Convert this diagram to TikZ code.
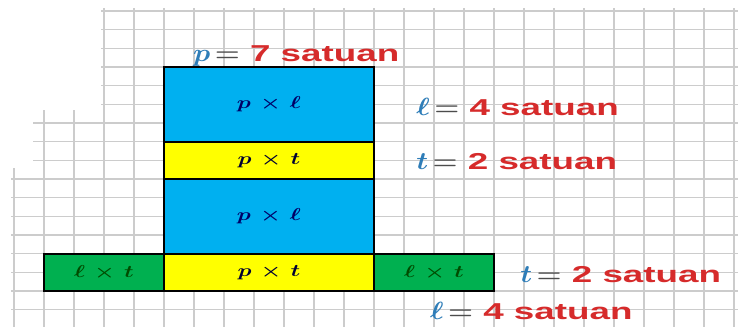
\documentclass[tikz,border=0pt]{standalone}
\usepackage{amsmath}
\usepackage{bm}
\usepackage{fontspec}
\setsansfont{Liberation Sans}
\usepackage{graphicx}
\usepackage{xcolor}
\usepackage{tikz}
\definecolor{AreaBlue}{HTML}{00B0F0}
\definecolor{AreaYellow}{HTML}{FFFF00}
\definecolor{AreaGreen}{HTML}{00B050}
\definecolor{SizeRed}{HTML}{D62B2B}
\definecolor{LetterBlue}{HTML}{2E7DB8}
\definecolor{EqualGray}{gray}{0.30}
\definecolor{GridGray}{gray}{0.80}
\newcommand{\FigureWide}[1]{\scalebox{1.35}[1]{#1}}
\newcommand{\FigureSize}[2]{%
  \scalebox{1.15}[1]{\textcolor{LetterBlue}{$\bm{#1}$}\,\textcolor{EqualGray}{$\bm{=}$}}%
  \scalebox{1.6}[1]{\ #2 satuan}%
}

\begin{document}
\begin{tikzpicture}[
  x=1pt,y=-1pt,
  gridline/.style={draw=GridGray,line width=1.1pt},
  area/.style={draw=black,line width=2.2pt,inner sep=0pt,font=\fontsize{17.28}{19}\selectfont},
  size/.style={anchor=base west,inner sep=0pt,font=\sffamily\bfseries\fontsize{23}{27}\selectfont,text=SizeRed},
]
  \fill[white] (0,0) rectangle (738,327);
  \useasboundingbox (0,0) rectangle (738,327);

  % grid paper, stepped on the left
  \foreach \k in {0,...,21}
    \draw[gridline] ({104+30*\k},8) -- ({104+30*\k},327);
  \foreach \k in {0,1}
    \draw[gridline] ({44+30*\k},110) -- ({44+30*\k},327);
  \draw[gridline] (14,168) -- (14,327);
  \foreach \j in {0,...,16}{
    \pgfmathsetmacro{\rowy}{11+18.667*\j}
    \ifnum\j<6 \def\rowx{101}\else\ifnum\j<9 \def\rowx{33}\else\def\rowx{11}\fi\fi
    \draw[gridline] (\rowx,\rowy) -- (738,\rowy);
  }

  \node[area,fill=AreaBlue,text=blue!40!black,minimum width=210pt,minimum height=74.67pt] (plTop) at (269,104.33)
    {\FigureWide{$\bm{p}\,\bm{\times}\,\bm{\ell}$}};
  \node[area,fill=AreaYellow,text=blue!20!black,minimum width=210pt,minimum height=37.33pt] (ptTop) at (269,160.33)
    {\FigureWide{$\bm{p}\,\bm{\times}\,\bm{t}$}};
  \node[area,fill=AreaBlue,text=blue!40!black,minimum width=210pt,minimum height=74.67pt] (plMid) at (269,216.33)
    {\FigureWide{$\bm{p}\,\bm{\times}\,\bm{\ell}$}};
  \node[area,fill=AreaYellow,text=blue!20!black,minimum width=210pt,minimum height=37.33pt] (ptBottom) at (269,272.33)
    {\FigureWide{$\bm{p}\,\bm{\times}\,\bm{t}$}};
  \node[area,fill=AreaGreen,text=green!30!black,minimum width=120pt,minimum height=37.33pt] (ltLeft) at (104,272.33)
    {\FigureWide{$\bm{\ell}\,\bm{\times}\,\bm{t}$}};
  \node[area,fill=AreaGreen,text=green!30!black,minimum width=120pt,minimum height=37.33pt] (ltRight) at (434,272.33)
    {\FigureWide{$\bm{\ell}\,\bm{\times}\,\bm{t}$}};

  \node[size] (sizeP) at ([xshift=-76pt,yshift=4pt]plTop.north) {\FigureSize{p}{7}};
  \node[size] (sizeL) at ([xshift=41pt,yshift=-10.7pt]plTop.east) {\FigureSize{\ell}{4}};
  \node[size] (sizeT) at ([xshift=41pt,yshift=-8.7pt]ptTop.east) {\FigureSize{t}{2}};
  \node[size] (sizeTb) at ([xshift=25pt,yshift=-9.7pt]ltRight.east) {\FigureSize{t}{2}};
  \node[size] (sizeLb) at ([xshift=57pt,yshift=-27pt]ltRight.south west) {\FigureSize{\ell}{4}};
\end{tikzpicture}
\end{document}
